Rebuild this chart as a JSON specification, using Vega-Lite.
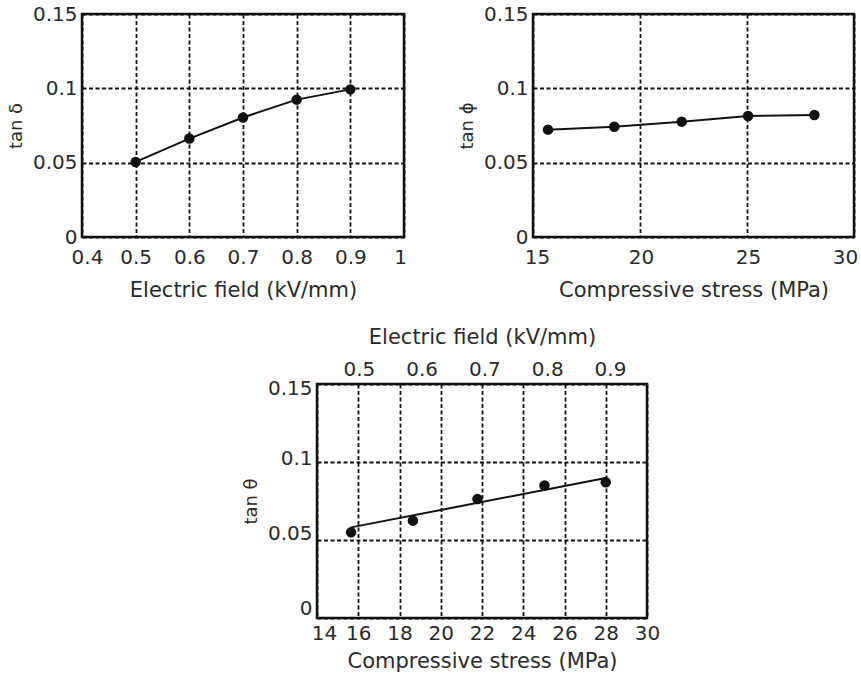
{
  "$schema": "https://vega.github.io/schema/vega-lite/v6.json",
  "padding": {"left": 6, "top": 2, "right": 0, "bottom": 5},
  "background": "white",
  "datasets": {
    "p1": [
      {"field": 0.5, "tan": 0.0505},
      {"field": 0.6, "tan": 0.0662},
      {"field": 0.7, "tan": 0.0804},
      {"field": 0.8, "tan": 0.0924},
      {"field": 0.9, "tan": 0.0993}
    ],
    "p2": [
      {"stress": 15.7, "tan": 0.0722},
      {"stress": 18.8, "tan": 0.0742},
      {"stress": 21.95, "tan": 0.0776},
      {"stress": 25.05, "tan": 0.0814},
      {"stress": 28.15, "tan": 0.0821}
    ],
    "p3": [
      {"stress": 15.65, "field": 0.5, "tan": 0.0549},
      {"stress": 18.65, "field": 0.6, "tan": 0.0624},
      {"stress": 21.78, "field": 0.7, "tan": 0.0763},
      {"stress": 25.03, "field": 0.8, "tan": 0.0849},
      {"stress": 28.0, "field": 0.9, "tan": 0.087}
    ],
    "fit": [
      {"stress": 15.65, "tan": 0.0581},
      {"stress": 28.0, "tan": 0.0897}
    ]
  },
  "config": {
    "font": "DejaVu Sans",
    "view": {"stroke": "#111", "strokeWidth": 2.5},
    "axis": {
      "domain": false,
      "ticks": false,
      "format": "~g",
      "labelFlush": false,
      "labelFont": "DejaVu Sans",
      "labelFontSize": 20,
      "labelColor": "#2a2a2a",
      "titleFont": "DejaVu Sans",
      "titleFontSize": 21,
      "titleFontWeight": "normal",
      "titleColor": "#2a2a2a",
      "gridColor": "#111",
      "gridDash": [4, 2.5],
      "gridWidth": 1.8,
      "gridOpacity": 1
    },
    "axisY": {"titleFontSize": 18, "labelPadding": 5, "titlePadding": 7},
    "axisX": {"labelPadding": 10, "titlePadding": 12}
  },
  "spacing": 22,
  "vconcat": [
    {
      "bounds": "flush",
      "spacing": 129,
      "hconcat": [
        {
          "width": 322,
          "height": 223,
          "data": {"name": "p1"},
          "layer": [
            {
              "mark": {"type": "line", "color": "#111", "strokeWidth": 2},
              "encoding": {
                "x": {"field": "field", "type": "quantitative", "scale": {"domain": [0.4, 1], "nice": false}, "axis": {"title": "Electric field (kV/mm)", "values": [0.4, 0.5, 0.6, 0.7, 0.8, 0.9, 1], "labelOffset": {"condition": [{"test": "datum.value <= 0.4", "value": 5}, {"test": "datum.value >= 1", "value": -4}], "value": 0}}},
                "y": {"field": "tan", "type": "quantitative", "scale": {"domain": [0, 0.15], "nice": false}, "axis": {"title": "tan δ", "values": [0, 0.05, 0.1, 0.15]}}
              }
            },
            {
              "mark": {"type": "point", "filled": true, "color": "#111", "opacity": 1, "size": 110},
              "encoding": {
                "x": {"field": "field", "type": "quantitative"},
                "y": {"field": "tan", "type": "quantitative"}
              }
            }
          ]
        },
        {
          "width": 321,
          "height": 223,
          "data": {"name": "p2"},
          "layer": [
            {
              "mark": {"type": "line", "color": "#111", "strokeWidth": 2},
              "encoding": {
                "x": {"field": "stress", "type": "quantitative", "scale": {"domain": [15, 30], "nice": false}, "axis": {"title": "Compressive stress (MPa)", "values": [15, 20, 25, 30], "labelOffset": {"condition": [{"test": "datum.value <= 15", "value": 4}, {"test": "datum.value >= 30", "value": -9}], "value": 1}}},
                "y": {"field": "tan", "type": "quantitative", "scale": {"domain": [0, 0.15], "nice": false}, "axis": {"title": "tan ϕ", "values": [0, 0.05, 0.1, 0.15]}}
              }
            },
            {
              "mark": {"type": "point", "filled": true, "color": "#111", "opacity": 1, "size": 110},
              "encoding": {
                "x": {"field": "stress", "type": "quantitative"},
                "y": {"field": "tan", "type": "quantitative"}
              }
            }
          ]
        }
      ]
    },
    {
      "bounds": "flush",
      "spacing": 0,
      "hconcat": [
        {
          "width": 235,
          "height": 234,
          "view": {"stroke": null},
          "data": {"values": []},
          "mark": "point"
        },
        {
          "width": 330,
          "height": 234,
          "resolve": {"scale": {"x": "independent"}, "axis": {"x": "independent"}},
          "layer": [
            {
              "layer": [
                {
                  "data": {"name": "fit"},
                  "mark": {"type": "line", "color": "#111", "strokeWidth": 2},
                  "encoding": {
                    "x": {"field": "stress", "type": "quantitative", "scale": {"domain": [14, 30], "nice": false}, "axis": {"title": "Compressive stress (MPa)", "values": [14, 16, 18, 20, 22, 24, 26, 28, 30], "labelPadding": 5, "titlePadding": 7, "labelOffset": {"condition": {"test": "datum.value <= 14", "value": 7}, "value": 0}}},
                    "y": {"field": "tan", "type": "quantitative", "scale": {"domain": [0, 0.15], "nice": false}, "axis": {"title": "tan θ", "values": [0, 0.05, 0.1, 0.15], "labelOffset": {"condition": [{"test": "datum.value == 0", "value": -10}, {"test": "datum.value == 0.05", "value": -7}, {"test": "datum.value == 0.1", "value": -4}], "value": 4}}}
                  }
                },
                {
                  "data": {"name": "p3"},
                  "mark": {"type": "point", "filled": true, "color": "#111", "opacity": 1, "size": 110},
                  "encoding": {
                    "x": {"field": "stress", "type": "quantitative"},
                    "y": {"field": "tan", "type": "quantitative"}
                  }
                }
              ]
            },
            {
              "data": {"name": "p3"},
              "mark": {"type": "point", "opacity": 0},
              "encoding": {
                "x": {"field": "field", "type": "quantitative", "scale": {"domain": [0.4334, 0.9589], "nice": false}, "axis": {"orient": "top", "title": "Electric field (kV/mm)", "values": [0.5, 0.6, 0.7, 0.8, 0.9], "grid": false, "labelPadding": 5, "titlePadding": 12}},
                "y": {"field": "tan", "type": "quantitative"}
              }
            }
          ]
        }
      ]
    }
  ]
}
